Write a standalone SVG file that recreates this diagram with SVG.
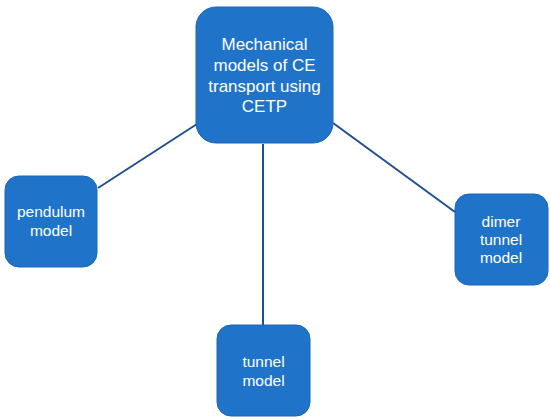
<svg xmlns="http://www.w3.org/2000/svg" width="550" height="420" viewBox="0 0 550 420">
<style>
.box{fill:#1f74c9;stroke:#1b66b3;stroke-width:1}
.lbl{font-family:"Liberation Sans",Arial,sans-serif;font-size:15.5px;fill:#ffffff;text-anchor:middle}
.big{font-size:17px}
.con{stroke:#1f4f8e;stroke-width:2;fill:none}
</style>
<rect width="550" height="420" fill="#ffffff"/>
<g id="connectors">
<line class="con" x1="197" y1="124" x2="98" y2="188"/>
<line class="con" x1="263" y1="144" x2="263" y2="325"/>
<line class="con" x1="333" y1="123" x2="455" y2="212"/>
</g>
<g id="main">
<rect class="box" x="196" y="7" width="137" height="136" rx="20"/>
<text class="lbl big" x="264.5"><tspan x="264.5" y="50">Mechanical</tspan><tspan x="264.5" y="71">models of CE</tspan><tspan x="264.5" y="91.5">transport using</tspan><tspan x="264.5" y="112">CETP</tspan></text>
</g>
<g id="pendulum">
<rect class="box" x="5" y="176" width="92" height="91" rx="14"/>
<text class="lbl" x="51"><tspan x="51" y="217">pendulum</tspan><tspan x="51" y="236">model</tspan></text>
</g>
<g id="dimer">
<rect class="box" x="455" y="194" width="93" height="91" rx="14"/>
<text class="lbl" x="501"><tspan x="501" y="227">dimer</tspan><tspan x="501" y="245">tunnel</tspan><tspan x="501" y="263">model</tspan></text>
</g>
<g id="tunnel">
<rect class="box" x="217" y="325" width="93" height="91" rx="14"/>
<text class="lbl" x="263.5"><tspan x="263.5" y="367">tunnel</tspan><tspan x="263.5" y="386">model</tspan></text>
</g>
</svg>
